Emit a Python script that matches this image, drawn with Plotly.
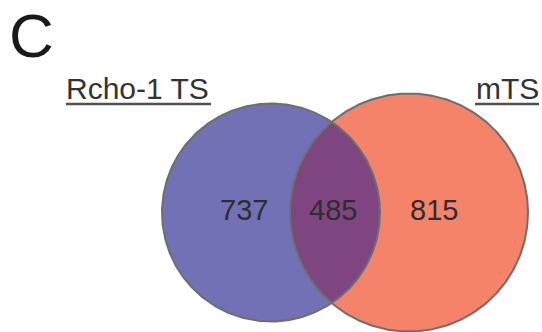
import numpy as np
import plotly.graph_objects as go

# Two-set overlap: counts per region (left only, shared, right only)
set_names = ["Rcho-1 TS", "mTS"]
region_names = ["Rcho-1 TS only", "Rcho-1 TS and mTS", "mTS only"]
region_counts = [737, 485, 815]
panel_letter = "C"

# Canvas / geometry (pixel units, y grows downward)
W, H = 542, 332
centers = [(271.0, 212.5), (409.0, 212.5)]
radii = [109.0, 119.0]
label_x = [243.5, 332.5, 433.5]
label_y = 210.0

fill_colors = ["#7371B5", "#F4836A"]
overlap_color = "#7F4581"
edge_color = "#6E6E6E"
text_color = "#2E2E2E"
font_family = "Liberation Sans, Arial, sans-serif"


def circle_xy(cx, cy, r, n=400):
    t = np.linspace(0, 2 * np.pi, n)
    return cx + r * np.cos(t), cy + r * np.sin(t)


def lens_xy(c1, r1, c2, r2, n=200):
    d = c2[0] - c1[0]
    a = (r1 ** 2 - r2 ** 2 + d ** 2) / (2 * d)
    h = np.sqrt(r1 ** 2 - a ** 2)
    al1 = np.arctan2(h, a)
    al2 = np.arctan2(h, d - a)
    t1 = np.linspace(-al1, al1, n)
    t2 = np.linspace(np.pi - al2, np.pi + al2, n)
    xs = np.concatenate([c1[0] + r1 * np.cos(t1), c2[0] + r2 * np.cos(t2)])
    ys = np.concatenate([c1[1] + r1 * np.sin(t1), c2[1] + r2 * np.sin(t2)])
    return xs, ys


fig = go.Figure()

# filled discs
for (cx, cy), r, col, name in zip(centers, radii, fill_colors, set_names):
    x, y = circle_xy(cx, cy, r)
    fig.add_trace(go.Scatter(x=x, y=y, mode="lines", fill="toself",
                             fillcolor=col, line=dict(width=0),
                             name=name, hoverinfo="skip"))

# shared region
lx, ly = lens_xy(centers[0], radii[0], centers[1], radii[1])
fig.add_trace(go.Scatter(x=lx, y=ly, mode="lines", fill="toself",
                         fillcolor=overlap_color, line=dict(width=0),
                         name=region_names[1], hoverinfo="skip"))

# outlines on top
for (cx, cy), r in zip(centers, radii):
    x, y = circle_xy(cx, cy, r)
    fig.add_trace(go.Scatter(x=x, y=y, mode="lines",
                             line=dict(color=edge_color, width=2),
                             hoverinfo="skip"))

# region counts
for xv, cnt in zip(label_x, region_counts):
    fig.add_annotation(x=xv, y=label_y, text=str(cnt), showarrow=False,
                       xanchor="center", yanchor="middle",
                       font=dict(family=font_family, size=29, color=text_color))

# set titles with underlines
fig.add_annotation(x=64, y=88, text=set_names[0], showarrow=False,
                   xanchor="left", yanchor="middle",
                   font=dict(family=font_family, size=30, color="#333333"))
fig.add_annotation(x=541, y=88, text=set_names[1], showarrow=False,
                   xanchor="right", yanchor="middle",
                   font=dict(family=font_family, size=30, color="#333333"))
fig.add_shape(type="line", x0=66, x1=211, y0=104, y1=104,
              line=dict(color="#505050", width=2.5))
fig.add_shape(type="line", x0=475, x1=539, y0=104, y1=104,
              line=dict(color="#505050", width=2.5))

# panel letter
fig.add_annotation(x=8, y=0, text=panel_letter, showarrow=False,
                   xanchor="left", yanchor="top", borderpad=0,
                   font=dict(family=font_family, size=62, color="#1A1A1A"))

fig.update_layout(
    width=W, height=H,
    margin=dict(l=0, r=0, t=0, b=0),
    paper_bgcolor="white", plot_bgcolor="white",
    showlegend=False,
    xaxis=dict(range=[0, W], visible=False, fixedrange=True),
    yaxis=dict(range=[H, 0], visible=False, fixedrange=True),
)

fig.write_html("out.html", config={"displayModeBar": False})
